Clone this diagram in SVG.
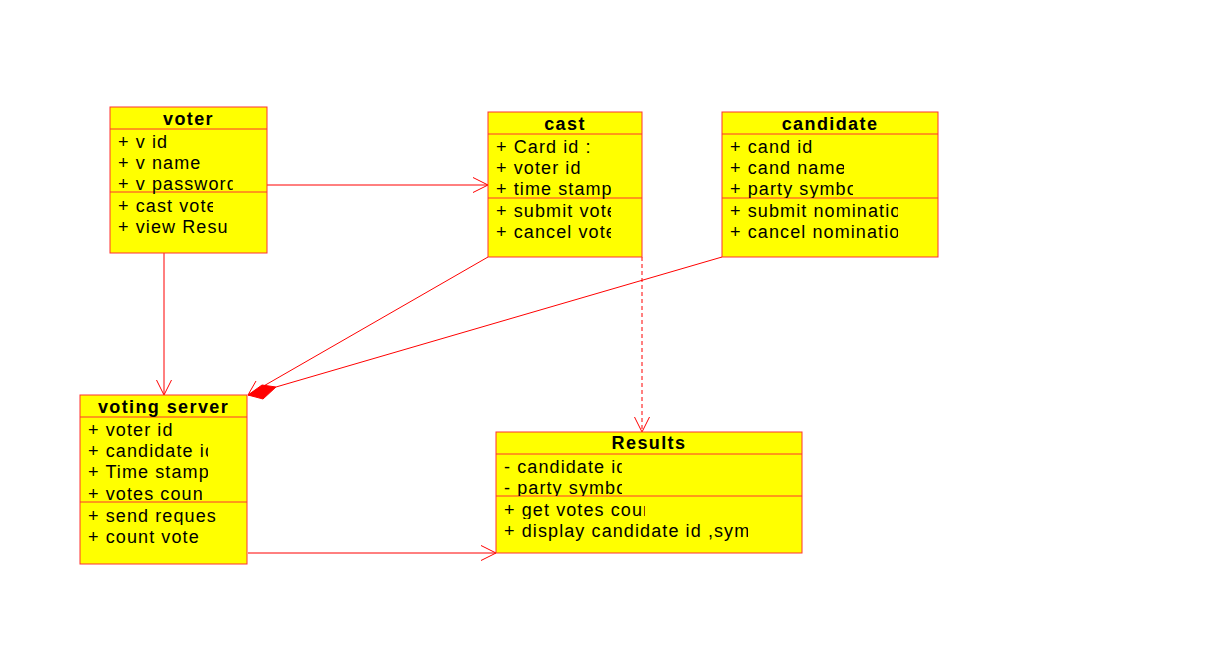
<svg xmlns="http://www.w3.org/2000/svg" width="1207" height="664" viewBox="0 0 1207 664">
<style>
.box{fill:#ffff00;stroke:#ff3333;stroke-width:1}
.sep{stroke:#ff3333;stroke-width:1}
.t{font-family:"Liberation Sans",Arial,sans-serif;font-size:18px;letter-spacing:1.1px;fill:#000}
.h{font-family:"Liberation Sans",Arial,sans-serif;font-size:18px;font-weight:bold;letter-spacing:1.4px;fill:#000;text-anchor:middle}
.ln{stroke:#ff0000;stroke-width:1;fill:none}
.dash{stroke:#ff0000;stroke-width:1;fill:none;stroke-dasharray:4,3}
</style>
<defs>
<clipPath id="c1" clipPathUnits="userSpaceOnUse"><rect x="110" y="100" width="123" height="160"/></clipPath>
<clipPath id="c1b" clipPathUnits="userSpaceOnUse"><rect x="110" y="195" width="103" height="22"/></clipPath>
<clipPath id="c2" clipPathUnits="userSpaceOnUse"><rect x="488" y="100" width="123" height="160"/></clipPath>
<clipPath id="c3a" clipPathUnits="userSpaceOnUse"><rect x="722" y="155" width="122" height="22"/></clipPath>
<clipPath id="c3b" clipPathUnits="userSpaceOnUse"><rect x="722" y="177" width="131" height="21"/></clipPath>
<clipPath id="c3c" clipPathUnits="userSpaceOnUse"><rect x="722" y="199" width="176" height="50"/></clipPath>
<clipPath id="c4a" clipPathUnits="userSpaceOnUse"><rect x="80" y="438" width="128" height="44"/></clipPath>
<clipPath id="c4b" clipPathUnits="userSpaceOnUse"><rect x="80" y="482" width="122" height="20"/></clipPath>
<clipPath id="c4c" clipPathUnits="userSpaceOnUse"><rect x="80" y="503" width="137" height="22"/></clipPath>
<clipPath id="c5a" clipPathUnits="userSpaceOnUse"><rect x="496" y="455" width="126" height="41"/></clipPath>
<clipPath id="c5b" clipPathUnits="userSpaceOnUse"><rect x="496" y="497" width="149" height="22"/></clipPath>
<clipPath id="c5c" clipPathUnits="userSpaceOnUse"><rect x="496" y="519" width="252" height="24"/></clipPath>
</defs>

<g id="connectors">
  <line class="ln" x1="267" y1="185" x2="488" y2="185"/>
  <polyline class="ln" points="473,177.5 488,185 473,192.5"/>
  <line class="ln" x1="164" y1="253" x2="164" y2="395"/>
  <polyline class="ln" points="156.5,380 164,395 171.5,380"/>
  <line class="ln" x1="488" y1="257" x2="248" y2="395"/>
  <polyline class="ln" points="256,381 248,395 263,395"/>
  <line class="ln" x1="722" y1="257" x2="276" y2="387"/>
  <polygon points="248,395 262,385 276,387 263,399" fill="#ff0000" stroke="#ff0000" stroke-width="1"/>
  <line class="dash" x1="642" y1="257" x2="642" y2="432"/>
  <polyline class="ln" points="634.5,417 642,432 649.5,417"/>
  <line class="ln" x1="248" y1="553" x2="496" y2="553"/>
  <polyline class="ln" points="481,545.5 496,553 481,560.5"/>
</g>

<g id="voter">
  <rect class="box" x="110" y="107" width="157" height="146"/>
  <line class="sep" x1="110" y1="129" x2="267" y2="129"/>
  <line class="sep" x1="110" y1="192" x2="267" y2="192"/>
  <text class="h" x="188.5" y="125">voter</text>
  <g clip-path="url(#c1)">
    <text class="t" x="118" y="148">+ v id</text>
    <text class="t" x="118" y="169">+ v name</text>
    <text class="t" x="118" y="190">+ v password</text>
    <text class="t" x="118" y="233">+ view Resu</text>
  </g>
  <text class="t" x="118" y="212" clip-path="url(#c1b)">+ cast vote</text>
</g>

<g id="cast">
  <rect class="box" x="488" y="112" width="154" height="145"/>
  <line class="sep" x1="488" y1="134" x2="642" y2="134"/>
  <line class="sep" x1="488" y1="198" x2="642" y2="198"/>
  <text class="h" x="565" y="130">cast</text>
  <g clip-path="url(#c2)">
    <text class="t" x="496" y="153">+ Card id :</text>
    <text class="t" x="496" y="174">+ voter id</text>
    <text class="t" x="496" y="195">+ time stamp</text>
    <text class="t" x="496" y="217">+ submit vote</text>
    <text class="t" x="496" y="238">+ cancel vote</text>
  </g>
</g>

<g id="candidate">
  <rect class="box" x="722" y="112" width="216" height="145"/>
  <line class="sep" x1="722" y1="134" x2="938" y2="134"/>
  <line class="sep" x1="722" y1="198" x2="938" y2="198"/>
  <text class="h" x="830" y="130">candidate</text>
  <text class="t" x="730" y="153">+ cand id</text>
  <text class="t" x="730" y="174" clip-path="url(#c3a)">+ cand name</text>
  <text class="t" x="730" y="195" clip-path="url(#c3b)">+ party symbol</text>
  <g clip-path="url(#c3c)">
    <text class="t" x="730" y="217">+ submit nomination</text>
    <text class="t" x="730" y="238">+ cancel nomination</text>
  </g>
</g>

<g id="voting_server">
  <rect class="box" x="80" y="395" width="167" height="169"/>
  <line class="sep" x1="80" y1="417" x2="247" y2="417"/>
  <line class="sep" x1="80" y1="502" x2="247" y2="502"/>
  <text class="h" x="163.5" y="413">voting server</text>
  <text class="t" x="88" y="436">+ voter id</text>
  <g clip-path="url(#c4a)">
    <text class="t" x="88" y="457">+ candidate id</text>
    <text class="t" x="88" y="478">+ Time stamp</text>
  </g>
  <text class="t" x="88" y="500" clip-path="url(#c4b)">+ votes count</text>
  <text class="t" x="88" y="522" clip-path="url(#c4c)">+ send request</text>
  <text class="t" x="88" y="543">+ count vote</text>
</g>

<g id="results">
  <rect class="box" x="496" y="432" width="306" height="121"/>
  <line class="sep" x1="496" y1="454" x2="802" y2="454"/>
  <line class="sep" x1="496" y1="496" x2="802" y2="496"/>
  <text class="h" x="649" y="449">Results</text>
  <g clip-path="url(#c5a)">
    <text class="t" x="504" y="473">- candidate id</text>
    <text class="t" x="504" y="494">- party symbol</text>
  </g>
  <text class="t" x="504" y="516" clip-path="url(#c5b)">+ get votes count</text>
  <text class="t" x="504" y="537" clip-path="url(#c5c)">+ display candidate id ,symbol</text>
</g>
</svg>
